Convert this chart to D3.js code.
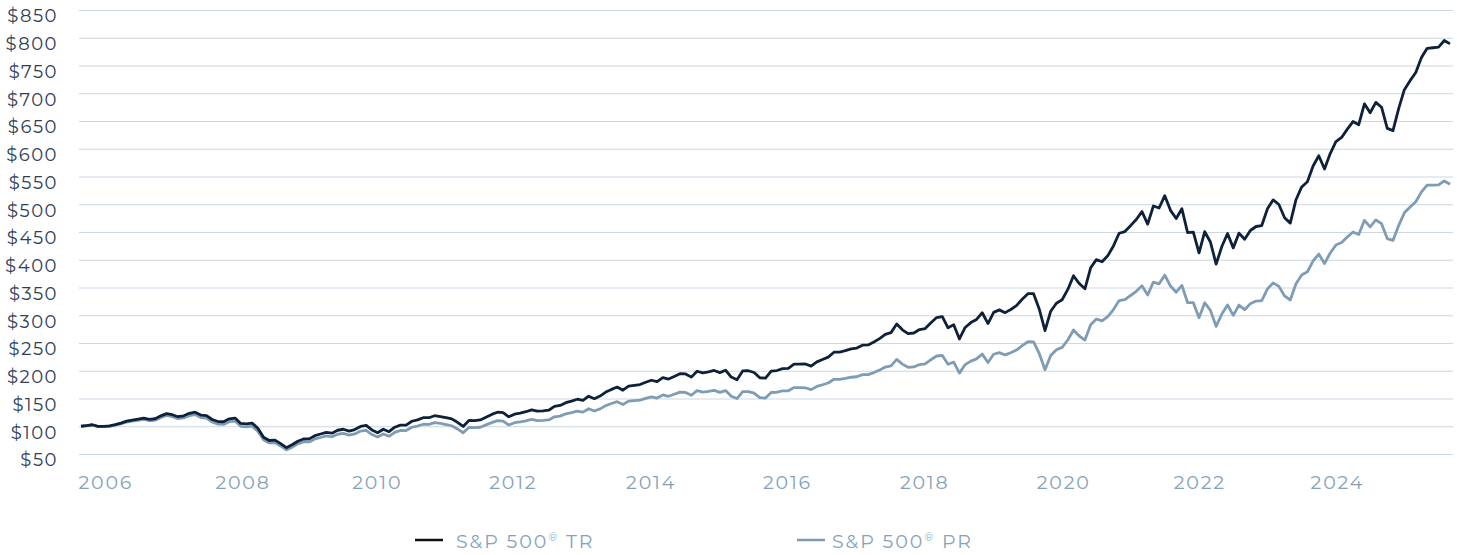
<!DOCTYPE html>
<html>
<head>
<meta charset="utf-8">
<script src="https://cdn.jsdelivr.net/npm/d3@7"></script>
<style>
  body { margin: 0; background: #fff; }
  svg text { font-family: "Montserrat", "Open Sans", sans-serif; }
</style>
</head>
<body>
<script>
// y axis tick values and x axis year labels
const yTicks = [50, 100, 150, 200, 250, 300, 350, 400, 450, 500, 550, 600, 650, 700, 750, 800, 850];
const yearLabels = ["2006", "2008", "2010", "2012", "2014", "2016", "2018", "2020", "2022", "2024"];
const seriesNames = ["S&P 500", "S&P 500"];
const seriesSuffix = [" TR", " PR"];

// monthly growth of $100, Feb 2006 .. Feb 2026
const trValues = [
  100.0, 101.3, 102.7, 99.7, 99.9, 100.6, 102.9, 105.6, 109.2, 111.2, 112.7,
  114.6, 112.3, 113.5, 118.7, 122.8, 120.8, 117.2, 118.9, 123.4, 125.4, 120.2, 119.3,
  112.2, 108.5, 108.1, 113.4, 114.8, 105.1, 104.3, 105.8, 96.4, 80.1, 74.3, 75.0,
  68.7, 61.3, 66.6, 73.0, 77.0, 77.2, 83.0, 86.0, 89.1, 87.6, 92.8, 94.6,
  91.3, 94.0, 99.7, 101.4, 93.3, 88.4, 94.6, 90.2, 98.3, 102.1, 102.1, 109.0,
  111.6, 115.4, 115.4, 119.0, 117.5, 115.6, 113.3, 107.1, 99.6, 110.5, 110.2, 111.3,
  116.3, 121.3, 125.3, 124.6, 117.0, 121.8, 123.6, 126.2, 129.5, 127.2, 127.8, 128.9,
  135.7, 137.4, 142.5, 145.4, 148.7, 146.7, 154.2, 149.7, 154.4, 161.6, 166.4, 170.6,
  164.9, 172.3, 173.8, 175.2, 179.2, 182.9, 180.5, 187.5, 185.0, 189.7, 194.6, 194.2,
  188.5, 199.1, 196.1, 198.0, 200.5, 196.6, 200.9, 188.6, 183.9, 199.6, 200.0, 196.9,
  187.2, 186.8, 199.4, 200.4, 203.7, 204.3, 211.9, 212.1, 212.2, 208.4, 216.0, 220.3,
  224.6, 233.4, 233.7, 236.3, 239.4, 240.9, 246.1, 246.6, 251.8, 257.9, 265.6, 268.7,
  284.3, 273.7, 266.8, 268.0, 274.2, 276.1, 286.5, 295.8, 297.5, 277.3, 282.8, 257.3,
  278.0, 286.8, 292.5, 304.5, 285.0, 305.2, 309.7, 304.7, 310.4, 317.4, 328.8, 338.8,
  338.8, 310.8, 272.4, 307.3, 321.7, 328.0, 346.5, 371.2, 357.1, 347.6, 385.5, 400.3,
  396.3, 407.2, 424.9, 447.8, 450.8, 461.4, 472.5, 486.8, 464.2, 496.9, 493.3, 515.5,
  489.0, 474.2, 491.8, 449.0, 449.7, 412.4, 450.5, 431.9, 392.1, 423.9, 447.3, 421.4,
  447.9, 436.8, 452.7, 459.9, 461.6, 492.0, 507.9, 499.6, 475.8, 466.0, 508.2, 531.2,
  540.4, 569.0, 587.4, 563.6, 591.4, 612.7, 620.3, 635.4, 649.0, 643.3, 680.9, 664.8,
  683.6, 674.8, 636.7, 632.6, 672.3, 706.5, 722.7, 737.3, 764.4, 781.0, 782.0, 783.0,
  795.0, 789.0
];

const prValues = [
  100.0, 101.1, 102.3, 99.2, 99.2, 99.7, 101.8, 104.3, 107.6, 109.4, 110.7,
  112.3, 109.9, 110.9, 115.7, 119.5, 117.4, 113.6, 115.1, 119.2, 121.0, 115.7, 114.7,
  107.6, 103.9, 103.3, 108.2, 109.3, 99.9, 99.0, 100.2, 91.1, 75.6, 70.0, 70.5,
  64.5, 57.4, 62.3, 68.2, 71.8, 71.8, 77.1, 79.7, 82.5, 80.9, 85.6, 87.1,
  83.9, 86.2, 91.3, 92.7, 85.1, 80.5, 86.0, 81.9, 89.1, 92.4, 92.2, 98.2,
  100.4, 103.6, 103.5, 106.5, 105.0, 103.1, 100.9, 95.2, 88.3, 97.9, 97.4, 98.2,
  102.5, 106.6, 110.0, 109.2, 102.3, 106.4, 107.7, 109.8, 112.5, 110.3, 110.6, 111.4,
  117.0, 118.3, 122.5, 124.7, 127.3, 125.4, 131.6, 127.5, 131.3, 137.2, 141.0, 144.3,
  139.2, 145.2, 146.2, 147.1, 150.2, 153.1, 150.8, 156.4, 154.0, 157.6, 161.4, 160.8,
  155.8, 164.3, 161.5, 162.8, 164.6, 161.1, 164.3, 154.0, 149.9, 162.4, 162.4, 159.6,
  151.5, 150.9, 160.8, 161.3, 163.7, 163.9, 169.7, 169.5, 169.3, 166.0, 171.7, 174.8,
  177.9, 184.6, 184.5, 186.2, 188.3, 189.2, 192.9, 193.0, 196.7, 201.1, 206.7, 208.8,
  220.5, 211.9, 206.2, 206.8, 211.2, 212.3, 219.9, 226.6, 227.5, 211.7, 215.5, 195.7,
  211.1, 217.4, 221.3, 230.0, 214.9, 229.7, 232.7, 228.5, 232.4, 237.2, 245.3, 252.3,
  251.9, 230.7, 201.8, 227.4, 237.7, 242.1, 255.4, 273.3, 262.6, 255.3, 282.8, 293.3,
  290.0, 297.6, 310.2, 326.5, 328.3, 335.6, 343.2, 353.2, 336.4, 359.6, 356.6, 372.2,
  352.6, 341.5, 353.8, 322.6, 322.7, 295.6, 322.5, 308.8, 280.0, 302.3, 318.6, 299.8,
  318.3, 310.0, 320.9, 325.6, 326.4, 347.5, 358.3, 352.0, 334.8, 327.5, 356.7, 372.4,
  378.4, 397.9, 410.3, 393.2, 412.1, 426.4, 431.2, 441.1, 450.0, 445.5, 471.0, 459.3,
  471.7, 465.0, 438.2, 434.9, 461.6, 484.5, 495.0, 504.4, 522.3, 534.5, 534.5, 535.0,
  542.0, 536.0
];

// one category per month
const months = d3.timeMonths(new Date(2006, 1, 1), new Date(2026, 2, 1)).map(d3.timeFormat("%Y-%m"));

const width = 1457;
const height = 555;
const trColor = "#0e2139";
const prColor = "#7e9db5";

const svg = d3.select("body")
  .append("svg")
  .attr("width", width)
  .attr("height", height);

const x = d3.scalePoint()
  .domain(months)
  .range([81, 1450]);

const y = d3.scaleLinear()
  .domain([50, 850])
  .range([454, 10]);

// gridlines
svg.append("g")
  .attr("transform", "translate(1453,0)")
  .call(d3.axisLeft(y).tickValues(yTicks).tickSize(1374).tickFormat(""))
  .call(g => g.select(".domain").remove())
  .selectAll("line")
  .attr("stroke", "#cbd7e1")
  .attr("stroke-width", 1.2);

// y labels
svg.append("g")
  .attr("transform", "translate(58,6)")
  .call(d3.axisLeft(y).tickValues(yTicks).tickSize(0).tickPadding(0).tickFormat(d => "$" + d))
  .call(g => g.select(".domain").remove())
  .selectAll("text")
  .attr("fill", "#2f4056")
  .attr("font-size", 18)
  .attr("letter-spacing", 1.5);

// x labels, anchored at the start of each 24 month block
svg.append("g")
  .attr("transform", "translate(0,482)")
  .call(d3.axisBottom(x).tickValues(yearLabels.map(yr => yr + "-02")).tickSize(0).tickPadding(0).tickFormat(d => d.slice(0, 4)))
  .call(g => g.select(".domain").remove())
  .selectAll("text")
  .attr("y", 0)
  .attr("dy", "0.35em")
  .attr("dx", -3)
  .attr("text-anchor", "start")
  .attr("fill", "#86a2b9")
  .attr("font-size", 19)
  .attr("letter-spacing", 1.8);

const line = d3.line()
  .x((d, i) => x(months[i]))
  .y(d => y(d));

svg.append("path")
  .datum(prValues)
  .attr("fill", "none")
  .attr("stroke", prColor)
  .attr("stroke-width", 2.8)
  .attr("stroke-linejoin", "round")
  .attr("d", line);

svg.append("path")
  .datum(trValues)
  .attr("fill", "none")
  .attr("stroke", trColor)
  .attr("stroke-width", 2.8)
  .attr("stroke-linejoin", "round")
  .attr("d", line);

// legend
const legend = [
  { x: 415, gap: 41, color: "#111111" },
  { x: 797, gap: 35, color: prColor }
];

legend.forEach((l, i) => {
  const g = svg.append("g").attr("transform", `translate(${l.x},540)`);
  g.append("line")
    .attr("x1", 0).attr("x2", 28)
    .attr("y1", 0).attr("y2", 0)
    .attr("stroke", l.color)
    .attr("stroke-width", 2.5);
  const t = g.append("text")
    .attr("x", l.gap)
    .attr("y", 1)
    .attr("dy", "0.35em")
    .attr("fill", "#86a2b9")
    .attr("font-size", 19)
    .attr("letter-spacing", 1.9);
  t.append("tspan").text(seriesNames[i]);
  t.append("tspan").attr("font-size", 11).attr("dy", -7).text("®");
  t.append("tspan").attr("dy", 7).text(seriesSuffix[i]);
});
</script>
</body>
</html>
